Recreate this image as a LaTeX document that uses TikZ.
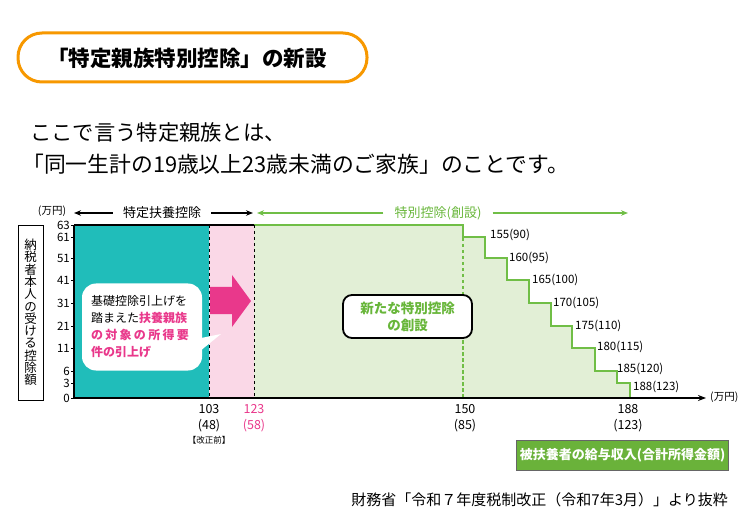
\documentclass[tikz,border=0pt]{standalone}
\usepackage{fontspec}
\setmainfont{Noto Sans CJK JP}
\usetikzlibrary{arrows.meta}

\definecolor{baseteal}{RGB}{32,189,186}
\definecolor{pinkfill}{RGB}{250,216,231}
\definecolor{greenfill}{RGB}{226,239,214}
\definecolor{linegreen}{RGB}{112,190,70}
\definecolor{textgreen}{RGB}{104,182,58}
\definecolor{labelgreen}{RGB}{106,178,58}
\definecolor{hotpink}{RGB}{233,56,139}
\definecolor{orangeline}{RGB}{247,152,0}

\begin{document}
\begin{tikzpicture}[
    % Work in pixel units of the page: x goes right, y goes down.
    x={(1pt,0pt)},
    y={(0pt,-1pt)}
]
    % --- Style Definitions ---
    \tikzstyle{axisline} = [draw, line width=1.3pt, black]
    \tikzstyle{stairline} = [draw, line width=1.9pt, linegreen]
    \tikzstyle{limitline} = [draw, line width=1pt, dashed, black]
    \tikzstyle{spanarrow} = [-{Stealth[length=7pt,width=5.5pt]}, line width=1.2pt]
    \tikzstyle{ticklabel} = [anchor=east, inner sep=1pt, font=\fontsize{11.5}{11.5}\selectfont]
    \tikzstyle{steplabel} = [anchor=west, inner sep=0pt, font=\fontsize{11.5}{12}\selectfont]
    \tikzstyle{xlabel} = [anchor=north, align=center, inner sep=0pt, font=\fontsize{12.5}{16}\selectfont]
    \tikzstyle{unitlabel} = [inner sep=0pt, font=\fontsize{10.5}{10.5}\selectfont]

    \useasboundingbox (0,0) rectangle (754,526);

    % --- Heading ---
    \draw[orangeline, line width=3pt, rounded corners=24pt] (18,33) rectangle (367,82);
    \node[font=\bfseries\fontsize{21.5}{21.5}\selectfont] (title) at (187,58) {「特定親族特別控除」の新設};
    \node[anchor=west, inner sep=0pt, font=\fontsize{21.3}{21.3}\selectfont] (intro1) at (30,132) {ここで言う特定親族とは、};
    \node[anchor=west, inner sep=0pt, font=\fontsize{21.8}{21.8}\selectfont] (intro2) at (22,164) {「同一生計の19歳以上23歳未満のご家族」のことです。};

    % --- Coordinates ---
    \coordinate (O) at (74,398);
    \coordinate (Ytop) at (74,225);
    \coordinate (Xend) at (706,398);
    % corners of the staircase of the new deduction
    \def\stairs{463/225,463/237,485/237,485/258,507/258,507/280,529/280,529/303,551/303,551/326,572/326,572/348,595/348,595/371,617/371,617/383,630/383,630/398}

    % --- Areas ---
    \fill[baseteal] (74,225) rectangle (209,398);
    \fill[pinkfill] (209,225) rectangle (254,398);
    \fill[greenfill] (254,225) \foreach \px/\py in \stairs { -- (\px,\py) } -- (254,398) -- cycle;

    % --- Borders and Limits ---
    \draw[line width=1.3pt] (74,225) -- (254,225);
    \draw[stairline] (254,225) \foreach \px/\py in \stairs { -- (\px,\py) };
    \draw[limitline] (209,225) -- (209,398);
    \draw[limitline] (254,225) -- (254,398);
    \draw[linegreen, line width=1.3pt, dash pattern=on 3.5pt off 2.5pt] (463,238) -- (463,398);

    % --- Axes ---
    \draw[axisline, -{Stealth[length=8pt,width=6pt]}] (Ytop) -- (O) -- (Xend);
    \foreach \v/\py in {63/225,61/237,51/258,41/280,31/303,21/326,11/348,6/371,3/383,0/398} {
        \draw[line width=0.9pt] (71,\py) -- (74,\py);
        \node[ticklabel] (tick\v) at (71,\py) {\v};
    }
    \node[unitlabel] (unitY) at (52,211) {(万円)};
    \node[unitlabel, anchor=west] (unitX) at (710,397) {(万円)};

    % --- Ranges above the chart ---
    \coordinate (specL) at (74,213);
    \coordinate (specR) at (253,213);
    \coordinate (newL) at (257,213);
    \coordinate (newR) at (628,213);
    \node[inner xsep=10pt, inner ysep=0pt, font=\fontsize{13}{13}\selectfont] (spec) at (162,213) {特定扶養控除};
    \node[inner xsep=11pt, inner ysep=0pt, text=textgreen, font=\fontsize{13}{13}\selectfont] (newdeduct) at (438,213) {特別控除(創設)};
    \draw[spanarrow] (spec.west) -- (specL);
    \draw[spanarrow] (spec.east) -- (specR);
    \draw[spanarrow, linegreen] (newdeduct.west) -- (newL);
    \draw[spanarrow, linegreen] (newdeduct.east) -- (newR);

    % --- Step Labels ---
    \foreach \a/\b/\px/\py in {155/90/490/235,160/95/509/258,165/100/532/280,170/105/553/303,175/110/575/326,180/115/597/347,185/120/617/369,188/123/633/387} {
        \node[steplabel] (step\a) at (\px,\py) {\a(\b)};
    }

    % --- Income Labels ---
    \node[xlabel] (x103) at (209,404) {103\\(48)};
    \node[inner sep=0pt, font=\fontsize{8.5}{8.5}\selectfont] (before) at (209,440) {【改正前】};
    \node[xlabel, text=hotpink] (x123) at (254,404) {123\\(58)};
    \node[xlabel] (x150) at (465,404) {150\\(85)};
    \node[xlabel] (x188) at (628,404) {188\\(123)};
    \node[fill=labelgreen, draw=black!60, line width=1pt, minimum width=209pt, minimum height=30pt, text=white, font=\bfseries\fontsize{13}{13}\selectfont] (income) at (622.5,455) {被扶養者の給与収入(合計所得金額)};

    % --- Vertical Label ---
    \node[draw, line width=0.9pt, minimum width=25pt, minimum height=175pt, align=center, inner sep=0pt, font=\fontsize{12.5}{12.3}\selectfont] (ylab) at (30.5,312.5) {納\\税\\者\\本\\人\\の\\受\\け\\る\\控\\除\\額};

    % --- Speech Bubble and Arrow ---
    \fill[white] (194,356) -- (221,334) -- (201,338) -- cycle;
    \node[fill=white, rounded corners=14pt, minimum width=120pt, minimum height=87pt, text width=102pt, align=left, inner xsep=9pt, font=\fontsize{12}{17}\selectfont] (bubble) at (142,327) {基礎控除引上げを\\踏まえた\textcolor{hotpink}{\bfseries 扶養親族}\\\textcolor{hotpink}{\bfseries\makebox[98pt][s]{の\hfil 対\hfil 象\hfil の\hfil 所\hfil 得\hfil 要}}\\\textcolor{hotpink}{\bfseries 件の引上げ}};
    \fill[hotpink] (210,287) -- (232,287) -- (232,275) -- (251,301) -- (232,327) -- (232,314) -- (210,314) -- cycle;

    % --- New Deduction Box ---
    \node[draw, fill=white, line width=1.8pt, rounded corners=9pt, minimum width=129pt, minimum height=43pt, align=center, text=textgreen, font=\bfseries\fontsize{13.5}{17}\selectfont] (newbox) at (407.5,316.5) {新たな特別控除\\の創設};

    % --- Source ---
    \node[anchor=east, inner sep=0pt, font=\fontsize{15}{15}\selectfont] (source) at (728,500) {財務省「令和７年度税制改正（令和7年3月）」より抜粋};
\end{tikzpicture}
\end{document}
